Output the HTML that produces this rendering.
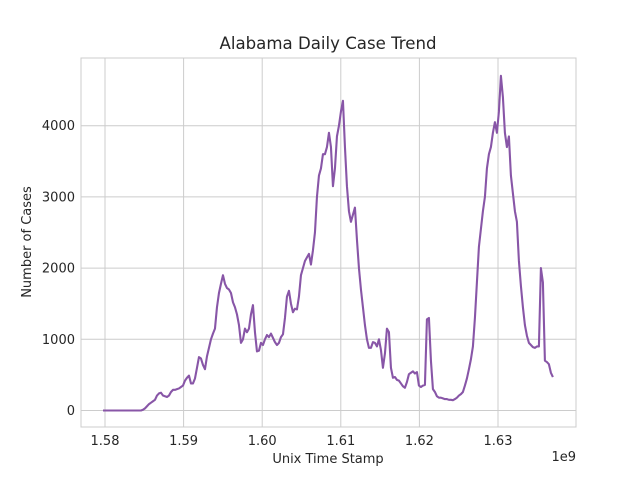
<!DOCTYPE html>
<html><head><meta charset="utf-8"><style>
body{margin:0;background:#fff;width:640px;height:480px;overflow:hidden}
text{font-family:"DejaVu Sans","Liberation Sans",sans-serif;fill:#262626}
</style></head><body>
<svg id="chart" width="640" height="480" xmlns="http://www.w3.org/2000/svg">
<rect width="640" height="480" fill="#fff"/>
<g id="grid"></g><g id="ticks"></g>
<rect x="81" y="58" width="495" height="369" fill="none" stroke="#cccccc" stroke-width="1"/>
<path id="line" fill="none" stroke="#8856a7" stroke-width="2.1" stroke-linejoin="round"/>
<text x="328" y="49" text-anchor="middle" font-size="16.6">Alabama Daily Case Trend</text>
<text x="328" y="463" text-anchor="middle" font-size="13">Unix Time Stamp</text>
<text transform="translate(31,242) rotate(-90)" text-anchor="middle" font-size="13">Number of Cases</text>
<text x="576" y="461" text-anchor="end" font-size="13">1e9</text>
</svg>
<script>
const xStart = 1579745000;
const xStep = 254400;
const values = [0,0,0,0,0,0,0,0,0,0,0,0,0,0,0,0,0,0,0,
0,10,30,60,90,110,130,150,210,240,250,210,200,190,210,260,290,290,300,310,330,350,420,460,490,380,380,450,600,750,730,640,580,760,880,1000,1080,1150,1450,1650,1780,1900,1780,1720,1700,1650,1520,1450,1350,1200,950,1000,1150,1100,1150,1350,1480,1100,830,840,950,920,1000,1060,1030,1080,1020,960,920,950,1030,1070,1300,1600,1680,1500,1380,1430,1420,1600,1900,2000,2100,2150,2200,2050,2250,2500,3000,3300,3400,3600,3600,3700,3900,3700,3150,3400,3850,4000,4200,4350,3700,3150,2800,2650,2750,2850,2400,2000,1700,1450,1200,1000,880,880,960,950,900,1000,850,600,800,1150,1100,600,460,470,430,420,380,340,320,400,510,530,550,520,540,350,330,350,360,1280,1300,700,300,260,200,180,180,170,160,160,150,150,145,160,180,210,230,260,350,450,580,720,900,1300,1800,2300,2550,2800,3000,3400,3600,3700,3900,4050,3900,4200,4700,4400,3900,3700,3850,3300,3050,2800,2650,2100,1750,1450,1200,1050,950,920,890,880,900,900,2000,1800,700,680,650,530,470];
const xTicks = [1.58e9,1.59e9,1.60e9,1.61e9,1.62e9,1.63e9];
const xTickLabels = ["1.58","1.59","1.60","1.61","1.62","1.63"];
const yTicks = [0,1000,2000,3000,4000];

const X = v => 105 + (v - 1.58e9) / 1e7 * 78.6;
const Y = v => 410.5 - v * 0.0712;
const NS = "http://www.w3.org/2000/svg";
const grid = document.getElementById('grid'), ticks = document.getElementById('ticks');
function mk(tag, attrs, parent, txt){const e=document.createElementNS(NS,tag);for(const k in attrs)e.setAttribute(k,attrs[k]);if(txt!==undefined)e.textContent=txt;parent.appendChild(e);return e;}
xTicks.forEach((t,i)=>{
  const g = mk('line',{x1:X(t),x2:X(t),y1:58,y2:427,stroke:'#cccccc','stroke-width':1},grid);
  
  
  const l = mk('text',{x:X(t),y:445,'text-anchor':'middle','font-size':13},ticks,xTickLabels[i]);
  
  
});
yTicks.forEach(t=>{
  const g = mk('line',{x1:81,x2:576,y1:Y(t),y2:Y(t),stroke:'#cccccc','stroke-width':1},grid);
  
  
  const l = mk('text',{x:75,y:Y(t)+4.5,'text-anchor':'end','font-size':13},ticks,String(t));
  
  
});
document.getElementById('line').setAttribute('d', values.map((v,i)=>(i?'L':'M')+X(xStart+i*xStep).toFixed(2)+','+Y(v).toFixed(2)).join(''));
</script>
</body></html>
